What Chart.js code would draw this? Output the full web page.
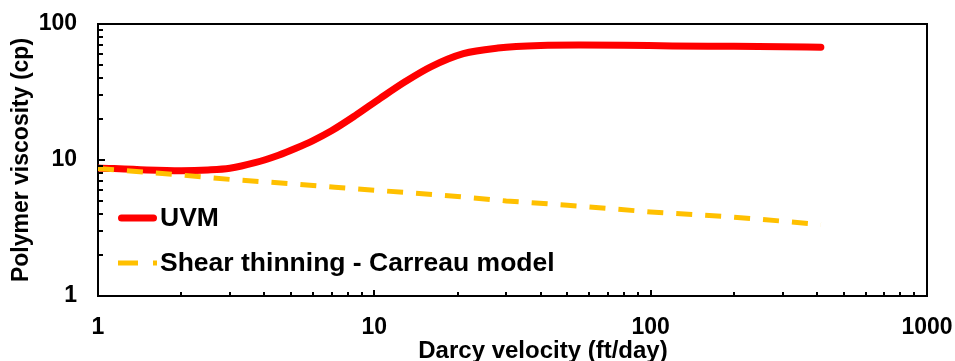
<!DOCTYPE html>
<html>
<head>
<meta charset="utf-8">
<script src="https://cdn.jsdelivr.net/npm/chart.js@4.4.1/dist/chart.umd.min.js"></script>
<style>
  html, body { margin: 0; padding: 0; background: #fff; }
</style>
</head>
<body>
<canvas id="myChart" width="955" height="361"></canvas>
<script>
// Darcy velocity (ft/day) against viscosity (cp)
const uvmVelocity = [1, 1.5, 2, 2.5, 3, 3.7, 4.5, 5.2, 6, 7, 8.5, 10.5, 13, 16, 21, 28, 40, 55, 80, 120, 200, 300, 413];
const uvmViscosity = [8.75, 8.45, 8.35, 8.45, 8.7, 9.55, 10.85, 12.2, 13.9, 16.4, 21.1, 28.4, 37.9, 48.4, 60.5, 66.5, 69.5, 70, 69.7, 69, 68.5, 68, 67.5];

const carreauVelocity = [1, 2, 3, 5, 7.2, 10, 20, 30, 50, 100, 200, 300, 413];
const carreauViscosity = [8.65, 7.75, 7.2, 6.7, 6.3, 6.0, 5.4, 5.0, 4.65, 4.15, 3.8, 3.55, 3.35];

const seriesNames = ['UVM', 'Shear thinning - Carreau model'];
const xTickLabels = [1, 10, 100, 1000];
const yTickLabels = [1, 10, 100];

const FONT = '"Liberation Sans", Arial, sans-serif';

function toPoints(xs, ys) {
    return xs.map((v, i) => ({ x: v, y: ys[i] }));
}

// 1..9, 10..90, ... for the log tick marks
function logSteps(min, max) {
    let out = [];
    for (let d = min; d < max; d *= 10) {
        for (let k = 1; k < 10; k++) out.push(d * k);
    }
    out.push(max);
    return out;
}

// box frame + inward ticks
const axisDecor = {
    id: 'axisDecor',
    afterDraw(chart) {
        const { ctx, chartArea: a, scales: { x, y } } = chart;
        ctx.save();
        ctx.strokeStyle = '#000';
        ctx.lineWidth = 2;
        ctx.beginPath();
        ctx.moveTo(a.left, a.top);
        ctx.lineTo(a.right, a.top);
        ctx.lineTo(a.right, a.bottom);
        ctx.stroke();

        ctx.beginPath();
        logSteps(1, 1000).forEach(v => {
            const px = Math.round(x.getPixelForValue(v));
            const len = xTickLabels.includes(v) ? 6 : 4;
            ctx.moveTo(px, a.bottom);
            ctx.lineTo(px, a.bottom - len);
        });
        logSteps(1, 100).forEach(v => {
            const py = Math.round(y.getPixelForValue(v));
            const len = yTickLabels.includes(v) ? 7 : 5;
            ctx.moveTo(a.left, py);
            ctx.lineTo(a.left + len, py);
        });
        ctx.stroke();

        // x axis title
        ctx.fillStyle = '#000';
        ctx.font = 'bold 24px ' + FONT;
        ctx.textAlign = 'center';
        ctx.textBaseline = 'alphabetic';
        ctx.fillText('Darcy velocity (ft/day)', 543, 358);
        ctx.restore();
    }
};

// legend sitting inside the plot, lower left
const legendInside = {
    id: 'legendInside',
    afterDraw(chart) {
        const ctx = chart.ctx;
        const rows = [218, 263];
        ctx.save();
        chart.data.datasets.forEach(ds => {
            const yy = rows[ds.legendRow];
            ctx.strokeStyle = ds.borderColor;
            ctx.lineWidth = ds.borderWidth;
            ctx.lineCap = ds.borderCapStyle || 'butt';
            ctx.setLineDash(ds.legendDash || []);
            ctx.beginPath();
            if (ds.borderCapStyle === 'round') {
                ctx.moveTo(121.5, yy);
                ctx.lineTo(153.5, yy);
            } else {
                ctx.moveTo(118, yy);
                ctx.lineTo(157, yy);
            }
            ctx.stroke();
            ctx.setLineDash([]);
            ctx.fillStyle = '#000';
            ctx.font = 'bold 26.5px ' + FONT;
            ctx.textAlign = 'left';
            ctx.textBaseline = 'middle';
            ctx.fillText(ds.label, 160, yy + 1);
        });
        ctx.restore();
    }
};

const ctx = document.getElementById('myChart').getContext('2d');
const myChart = new Chart(ctx, {
    type: 'line',
    data: {
        datasets: [{
            label: seriesNames[0],
            data: toPoints(uvmVelocity, uvmViscosity),
            borderColor: '#FF0000',
            borderWidth: 7,
            borderCapStyle: 'round',
            borderJoinStyle: 'round',
            cubicInterpolationMode: 'monotone',
            pointRadius: 0,
            order: 2,
            legendRow: 0
        }, {
            label: seriesNames[1],
            data: toPoints(carreauVelocity, carreauViscosity),
            borderColor: '#FFC000',
            borderWidth: 5,
            borderDash: [16, 13],
            legendDash: [20, 15],
            pointRadius: 0,
            order: 1,
            legendRow: 1
        }]
    },
    options: {
        responsive: false,
        animation: false,
        layout: {
            padding: { left: 0, right: 28, top: 24, bottom: 0 }
        },
        plugins: {
            legend: { display: false },
            tooltip: { enabled: false }
        },
        scales: {
            x: {
                type: 'logarithmic',
                min: 1,
                max: 1000,
                afterBuildTicks: scale => {
                    scale.ticks = xTickLabels.map(v => ({ value: v }));
                },
                afterFit: scale => {
                    scale.height = 65;
                    scale.paddingLeft = 0;
                    scale.paddingRight = 0;
                },
                grid: { display: false, drawTicks: false },
                border: { display: true, color: '#000', width: 2 },
                ticks: {
                    padding: 18,
                    color: '#000',
                    font: { family: FONT, size: 23, weight: 'bold' },
                    maxRotation: 0,
                    callback: v => String(v)
                }
            },
            y: {
                type: 'logarithmic',
                min: 1,
                max: 100,
                afterBuildTicks: scale => {
                    scale.ticks = yTickLabels.map(v => ({ value: v }));
                },
                afterFit: scale => {
                    scale.width = 98;
                    scale.paddingTop = 0;
                    scale.paddingBottom = 0;
                },
                grid: { display: false, drawTicks: false },
                border: { display: true, color: '#000', width: 2 },
                ticks: {
                    padding: 21,
                    color: '#000',
                    font: { family: FONT, size: 23, weight: 'bold' },
                    callback: v => String(v)
                },
                title: {
                    display: true,
                    text: 'Polymer viscosity (cp)',
                    color: '#000',
                    font: { family: FONT, size: 23, weight: 'bold' },
                    padding: { top: 8, bottom: 0 }
                }
            }
        }
    },
    plugins: [axisDecor, legendInside]
});
</script>
</body>
</html>
